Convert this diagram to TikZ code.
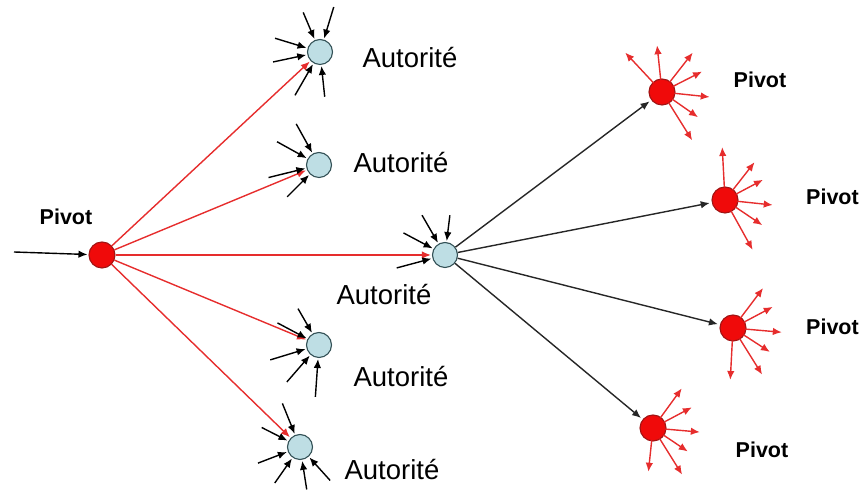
\documentclass[tikz,border=0pt]{standalone}
\usepackage{fontspec}
\setmainfont{Liberation Sans}
\usetikzlibrary{arrows.meta}
\definecolor{authfill}{RGB}{190,222,228}
\definecolor{authdraw}{RGB}{50,80,85}
\definecolor{pivfill}{RGB}{240,10,10}
\definecolor{pivdraw}{RGB}{160,20,20}
\definecolor{redline}{RGB}{230,45,45}
\tikzset{
  authnode/.style={circle,draw=authdraw,fill=authfill,line width=1.1pt,minimum size=25pt,inner sep=0pt},
  pivnode/.style={circle,draw=pivdraw,fill=pivfill,line width=1.1pt,minimum size=26pt,inner sep=0pt},
  tip/.style={-{Latex[length=9pt,width=7.5pt]}},
  inarr/.style={draw=black,line width=1.4pt,tip,shorten >=1pt},
  redarr/.style={draw=redline,line width=1.4pt,tip,shorten >=1pt},
  outarr/.style={draw=redline,line width=1.4pt,tip,shorten <=-1pt},
  blkarr/.style={draw=black!85,line width=1.4pt,tip,shorten >=2pt},
  autlab/.style={font=\fontsize{27.5}{30}\selectfont,inner sep=0pt},
  pivlab/.style={font=\fontsize{21.5}{24}\selectfont\bfseries,inner sep=0pt}
}
\begin{document}
\begin{tikzpicture}[x=1pt,y=1pt]
\useasboundingbox (0,0) rectangle (863,497);
% nodes
\node[pivnode] (Pv) at (102,242) {};
\node[authnode] (A1) at (320,445) {};
\node[authnode] (A2) at (319,332) {};
\node[authnode] (A3) at (445,242) {};
\node[authnode] (A4) at (319,152) {};
\node[authnode] (A5) at (300,50) {};
\node[pivnode] (P1) at (662,405) {};
\node[pivnode] (P2) at (725,297) {};
\node[pivnode] (P3) at (733,169) {};
\node[pivnode] (P4) at (653,69) {};
% labels
\node[pivlab] (LPv) at (66,280) {Pivot};
\node[pivlab] (LP1) at (760,417) {Pivot};
\node[pivlab] (LP2) at (832.5,300) {Pivot};
\node[pivlab] (LP3) at (832.5,170) {Pivot};
\node[pivlab] (LP4) at (762,47) {Pivot};
\node[autlab] (LA1) at (410,439) {Autorité};
\node[autlab] (LA2) at (401,334) {Autorité};
\node[autlab] (LA3) at (384,202) {Autorité};
\node[autlab] (LA4) at (401,120) {Autorité};
\node[autlab] (LA5) at (392,27) {Autorité};
% incoming to main pivot
\coordinate (In) at (14,245);
\draw[inarr] (In) -- (Pv);
% red arrows pivot -> authorities
\foreach \t in {A1,A2,A3,A4,A5}{\draw[redarr] (Pv) -- (\t);}
% black arrows central authority -> pivots
\foreach \t in {P1,P2,P3,P4}{\draw[blkarr] (A3) -- (\t);}
% small incoming arrows
\foreach \a/\l in {113/43,73/47,163/47,192/48,240/50,276/45}
  {\draw[inarr] ([shift={(\a:\l)}]A1.center) -- (A1);}
\foreach \a/\l in {119/47,151/48,194/52,225/45}
  {\draw[inarr] ([shift={(\a:\l)}]A2.center) -- (A2);}
\foreach \a/\l in {120/46,83/40,152/47,195/50}
  {\draw[inarr] ([shift={(\a:\l)}]A3.center) -- (A3);}
\foreach \a/\l in {120/42,152/47,197/51,229/49,266/52}
  {\draw[inarr] ([shift={(\a:\l)}]A4.center) -- (A4);}
\foreach \a/\l in {112/47,153/43,201/45,235/44,279/43,312/45}
  {\draw[inarr] ([shift={(\a:\l)}]A5.center) -- (A5);}
% outgoing red arrows from pivots
\foreach \a/\l in {133/54,96/47,52/50,27/45,-6/48,-35/44,-58/57}
  {\draw[outarr] (P1) -- ([shift={(\a:\l)}]P1.center);}
\foreach \a/\l in {93/53,52/48,28/43,-6/48,-34/45,-61/57}
  {\draw[outarr] (P2) -- ([shift={(\a:\l)}]P2.center);}
\foreach \a/\l in {53/50,28/45,-5/49,-33/44,-58/55,-93/52}
  {\draw[outarr] (P3) -- ([shift={(\a:\l)}]P3.center);}
\foreach \a/\l in {54/49,28/44,-5/47,-34/42,-58/55,-96/44}
  {\draw[outarr] (P4) -- ([shift={(\a:\l)}]P4.center);}
\end{tikzpicture}
\end{document}
